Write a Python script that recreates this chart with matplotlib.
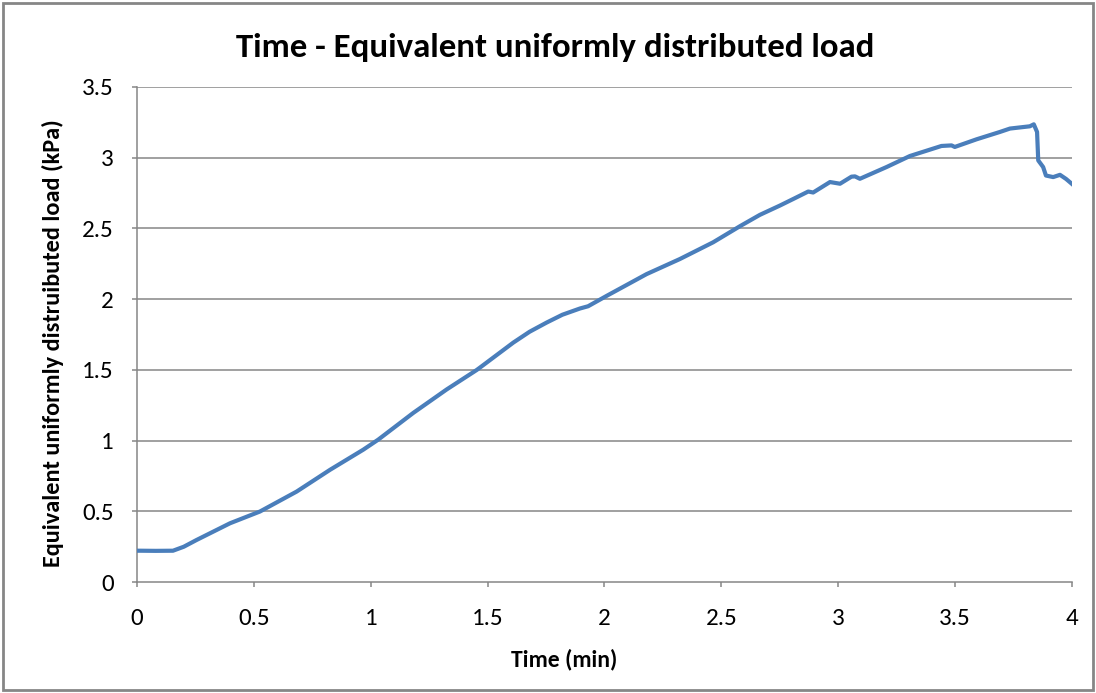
import matplotlib.pyplot as plt
from matplotlib.patches import Rectangle

plt.rcParams["font.family"] = ["Carlito", "Lato", "DejaVu Sans"]

# Load record (time in minutes, equivalent UDL in kPa)
time_min = [
    0.0, 0.013, 0.08, 0.154, 0.2, 0.255, 0.398, 0.526, 0.683, 0.826,
    0.968, 1.032, 1.182, 1.325, 1.453, 1.467, 1.53, 1.61, 1.68, 1.753,
    1.82, 1.895, 1.93, 2.009, 2.18, 2.323, 2.465, 2.58, 2.665, 2.751,
    2.81, 2.872, 2.893, 2.965, 3.008, 3.057, 3.072, 3.093, 3.207, 3.307,
    3.442, 3.485, 3.499, 3.592, 3.692, 3.735, 3.82, 3.837, 3.851, 3.856,
    3.877, 3.889, 3.92, 3.949, 3.975, 4.0,
]
load_kpa = [
    0.222, 0.222, 0.221, 0.222, 0.25, 0.298, 0.416, 0.499, 0.640, 0.794,
    0.936, 1.007, 1.196, 1.362, 1.499, 1.516, 1.594, 1.693, 1.770, 1.835,
    1.890, 1.934, 1.950, 2.023, 2.177, 2.284, 2.402, 2.516, 2.596, 2.662,
    2.710, 2.761, 2.754, 2.828, 2.816, 2.866, 2.868, 2.851, 2.934, 3.012,
    3.083, 3.087, 3.076, 3.130, 3.182, 3.206, 3.222, 3.236, 3.182, 2.981,
    2.934, 2.874, 2.863, 2.879, 2.850, 2.815,
]

y_ticks = [0, 0.5, 1, 1.5, 2, 2.5, 3, 3.5]
x_ticks = [0, 0.5, 1, 1.5, 2, 2.5, 3, 3.5, 4]
x_tick_labels = ["0", "0.5", "1", "1.5", "2", "2.5", "3", "3.5", "4"]
y_tick_labels = ["0", "0.5", "1", "1.5", "2", "2.5", "3", "3.5"]

fig = plt.figure(figsize=(10.96, 6.93), dpi=100)
ax = fig.add_axes([0.125, 0.160, 0.853, 0.7145])

axis_grey = "#868686"

for y in y_ticks[1:]:
    ax.axhline(y, color=axis_grey, linewidth=1.1, zorder=1)

ax.plot(time_min, load_kpa, color="#4a7ebb", linewidth=3.0,
        solid_joinstyle="round", zorder=3)

ax.set_xlim(0, 4)
ax.set_ylim(0, 3.5)
ax.set_xticks(x_ticks)
ax.set_xticklabels(x_tick_labels)
ax.set_yticks(y_ticks)
ax.set_yticklabels(y_tick_labels)
ax.tick_params(axis="both", direction="out", length=3.6, width=1.1,
               color=axis_grey, labelsize=18, labelcolor="black")
ax.tick_params(axis="x", pad=15)
ax.tick_params(axis="y", pad=13)

for side in ("top", "right"):
    ax.spines[side].set_visible(False)
for side in ("left", "bottom"):
    ax.spines[side].set_color(axis_grey)
    ax.spines[side].set_linewidth(1.1)

# axis titles placed in figure coordinates
fig.text(0.5146, 0.049, "Time (min)", ha="center", va="center",
         fontsize=17, fontweight="bold")
fig.text(0.048, 0.505, "Equivalent uniformly distruibuted load (kPa)",
         ha="center", va="center", rotation=90, fontsize=17.5,
         fontweight="bold")

fig.text(0.507, 0.931, "Time - Equivalent uniformly distributed load",
         ha="center", va="center", fontsize=25, fontweight="bold")

# chart frame
fig.patches.append(Rectangle((0.003, 0.004), 0.994, 0.991,
                             transform=fig.transFigure, fill=False,
                             edgecolor=axis_grey, linewidth=2.0))

fig.savefig("out.png", dpi=100)
